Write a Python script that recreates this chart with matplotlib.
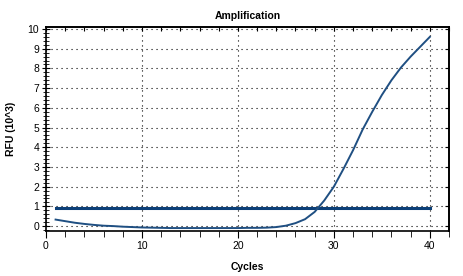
import matplotlib.pyplot as plt
import numpy as np
from matplotlib.ticker import MultipleLocator, NullFormatter

plt.rcParams['font.family'] = ['Liberation Sans', 'DejaVu Sans']

cycles = np.arange(1, 41)
rfu = np.array([0.33, 0.25, 0.17, 0.11, 0.06, 0.02, 0.0, -0.03, -0.05, -0.07,
                -0.08, -0.09, -0.10, -0.10, -0.10, -0.10, -0.10, -0.10, -0.10, -0.10,
                -0.09, -0.09, -0.08, -0.05, 0.02, 0.15, 0.35, 0.72, 1.3, 2.0,
                2.9, 3.85, 4.9, 5.8, 6.65, 7.4, 8.05, 8.6, 9.1, 9.6])
threshold = 0.93

fig = plt.figure(figsize=(4.64, 2.76), dpi=100)
ax = fig.add_axes([0.0991, 0.163, 0.8686, 0.739])

ax.plot([cycles[0], cycles[-1]], [threshold, threshold], color='#0b3f78', lw=2.2)
ax.plot(cycles, rfu, color='#1f4f82', lw=1.4)

ax.set_xlim(0, 42)
ax.set_ylim(-0.25, 10.1)
ax.xaxis.set_major_locator(MultipleLocator(10))
ax.xaxis.set_minor_locator(MultipleLocator(2))
ax.yaxis.set_major_locator(MultipleLocator(1))
ax.yaxis.set_minor_locator(MultipleLocator(0.2))

ax.grid(True, which='major', color='black', linestyle=(0, (1, 3.5)), linewidth=0.8)
ax.tick_params(axis='x', which='both', direction='out', labelsize=7.5, pad=2)
ax.tick_params(axis='x', which='major', length=5)
ax.tick_params(axis='x', which='minor', length=4)
ax.tick_params(axis='y', which='both', direction='inout', labelsize=7.5, pad=2)
ax.tick_params(axis='y', which='major', length=6)
ax.tick_params(axis='y', which='minor', length=5)

# inward ticks on top and right edges
top = ax.secondary_xaxis('top')
top.xaxis.set_major_locator(MultipleLocator(2))
top.xaxis.set_major_formatter(NullFormatter())
top.tick_params(direction='in', length=3, width=0.8)
right = ax.secondary_yaxis('right')
right.yaxis.set_major_locator(MultipleLocator(1))
right.yaxis.set_major_formatter(NullFormatter())
right.tick_params(direction='in', length=3, width=0.8)

for s in list(ax.spines.values()) + [top.spines['top'], right.spines['right']]:
    s.set_linewidth(1.2)

ax.set_title("Amplification", fontsize=7.5, fontweight='bold', pad=6)
ax.set_xlabel("Cycles", fontsize=7.5, fontweight='bold', labelpad=8)
ax.set_ylabel("RFU (10^3)", fontsize=7.5, fontweight='bold', labelpad=8)

fig.savefig("out.png", dpi=100)
